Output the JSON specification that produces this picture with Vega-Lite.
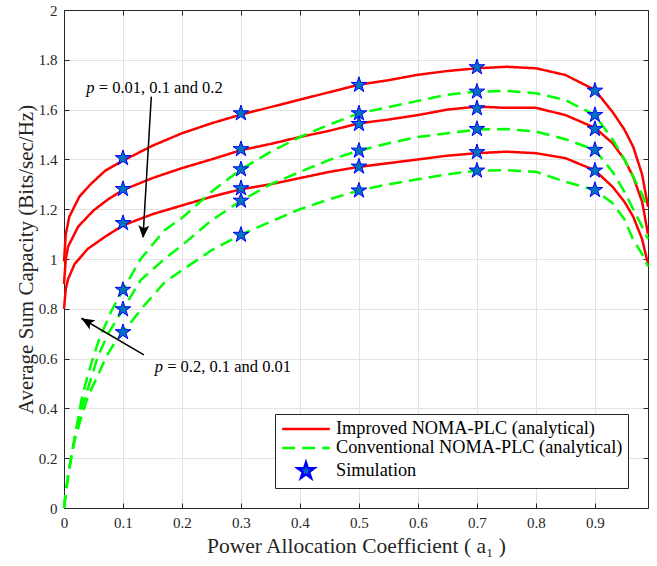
{
  "$schema": "https://vega.github.io/schema/vega-lite/v6.json",
  "width": 584,
  "height": 498,
  "autosize": {"type": "none"},
  "padding": {"left": 64, "top": 10, "right": 9, "bottom": 58},
  "background": "white",
  "config": {
    "font": "Liberation Serif",
    "view": {"stroke": null},
    "axis": {
      "labelFont": "Liberation Serif",
      "titleFont": "Liberation Serif",
      "titleFontWeight": "normal",
      "labelColor": "#262626",
      "titleColor": "#262626",
      "domainColor": "#262626",
      "tickColor": "#262626",
      "gridColor": "#e3e3e3",
      "labelFontSize": 15,
      "titleFontSize": 21,
      "labelFlush": false,
      "tickSize": -5,
      "labelPadding": 12
    },
    "legend": {
      "orient": "none", "legendX": 211, "legendY": 404,
      "fillColor": "white", "strokeColor": "#262626", "padding": 5, "cornerRadius": 0,
      "labelFont": "Liberation Serif", "labelFontSize": 18.3, "labelColor": "#000000", "labelLimit": 500,
      "symbolSize": 289, "symbolOffset": 16, "labelOffset": 20, "rowPadding": 0,
      "symbolStrokeWidth": 2.5, "symbolFillColor": "#0072bd"
    }
  },
  "datasets": {
    "curves": [
      {"series": "Improved NOMA-PLC (analytical)", "p": 0.01, "a": 0, "c": 0.99},
      {"series": "Improved NOMA-PLC (analytical)", "p": 0.01, "a": 0.003, "c": 1.10},
      {"series": "Improved NOMA-PLC (analytical)", "p": 0.01, "a": 0.009, "c": 1.17},
      {"series": "Improved NOMA-PLC (analytical)", "p": 0.01, "a": 0.026, "c": 1.25},
      {"series": "Improved NOMA-PLC (analytical)", "p": 0.01, "a": 0.045, "c": 1.30},
      {"series": "Improved NOMA-PLC (analytical)", "p": 0.01, "a": 0.07, "c": 1.355},
      {"series": "Improved NOMA-PLC (analytical)", "p": 0.01, "a": 0.1, "c": 1.395},
      {"series": "Improved NOMA-PLC (analytical)", "p": 0.01, "a": 0.15, "c": 1.455},
      {"series": "Improved NOMA-PLC (analytical)", "p": 0.01, "a": 0.2, "c": 1.505},
      {"series": "Improved NOMA-PLC (analytical)", "p": 0.01, "a": 0.25, "c": 1.545},
      {"series": "Improved NOMA-PLC (analytical)", "p": 0.01, "a": 0.3, "c": 1.58},
      {"series": "Improved NOMA-PLC (analytical)", "p": 0.01, "a": 0.35, "c": 1.61},
      {"series": "Improved NOMA-PLC (analytical)", "p": 0.01, "a": 0.4, "c": 1.64},
      {"series": "Improved NOMA-PLC (analytical)", "p": 0.01, "a": 0.45, "c": 1.67},
      {"series": "Improved NOMA-PLC (analytical)", "p": 0.01, "a": 0.5, "c": 1.70},
      {"series": "Improved NOMA-PLC (analytical)", "p": 0.01, "a": 0.55, "c": 1.718},
      {"series": "Improved NOMA-PLC (analytical)", "p": 0.01, "a": 0.6, "c": 1.74},
      {"series": "Improved NOMA-PLC (analytical)", "p": 0.01, "a": 0.65, "c": 1.755},
      {"series": "Improved NOMA-PLC (analytical)", "p": 0.01, "a": 0.7, "c": 1.766},
      {"series": "Improved NOMA-PLC (analytical)", "p": 0.01, "a": 0.75, "c": 1.772},
      {"series": "Improved NOMA-PLC (analytical)", "p": 0.01, "a": 0.8, "c": 1.766},
      {"series": "Improved NOMA-PLC (analytical)", "p": 0.01, "a": 0.85, "c": 1.739},
      {"series": "Improved NOMA-PLC (analytical)", "p": 0.01, "a": 0.9, "c": 1.679},
      {"series": "Improved NOMA-PLC (analytical)", "p": 0.01, "a": 0.93, "c": 1.59},
      {"series": "Improved NOMA-PLC (analytical)", "p": 0.01, "a": 0.95, "c": 1.52},
      {"series": "Improved NOMA-PLC (analytical)", "p": 0.01, "a": 0.965, "c": 1.45},
      {"series": "Improved NOMA-PLC (analytical)", "p": 0.01, "a": 0.98, "c": 1.34},
      {"series": "Improved NOMA-PLC (analytical)", "p": 0.01, "a": 0.99, "c": 1.21},

      {"series": "Improved NOMA-PLC (analytical)", "p": 0.1, "a": 0, "c": 0.90},
      {"series": "Improved NOMA-PLC (analytical)", "p": 0.1, "a": 0.003, "c": 1.00},
      {"series": "Improved NOMA-PLC (analytical)", "p": 0.1, "a": 0.007, "c": 1.05},
      {"series": "Improved NOMA-PLC (analytical)", "p": 0.1, "a": 0.024, "c": 1.13},
      {"series": "Improved NOMA-PLC (analytical)", "p": 0.1, "a": 0.05, "c": 1.195},
      {"series": "Improved NOMA-PLC (analytical)", "p": 0.1, "a": 0.075, "c": 1.24},
      {"series": "Improved NOMA-PLC (analytical)", "p": 0.1, "a": 0.1, "c": 1.277},
      {"series": "Improved NOMA-PLC (analytical)", "p": 0.1, "a": 0.15, "c": 1.325},
      {"series": "Improved NOMA-PLC (analytical)", "p": 0.1, "a": 0.2, "c": 1.365},
      {"series": "Improved NOMA-PLC (analytical)", "p": 0.1, "a": 0.25, "c": 1.40},
      {"series": "Improved NOMA-PLC (analytical)", "p": 0.1, "a": 0.3, "c": 1.437},
      {"series": "Improved NOMA-PLC (analytical)", "p": 0.1, "a": 0.35, "c": 1.462},
      {"series": "Improved NOMA-PLC (analytical)", "p": 0.1, "a": 0.4, "c": 1.49},
      {"series": "Improved NOMA-PLC (analytical)", "p": 0.1, "a": 0.45, "c": 1.515},
      {"series": "Improved NOMA-PLC (analytical)", "p": 0.1, "a": 0.5, "c": 1.545},
      {"series": "Improved NOMA-PLC (analytical)", "p": 0.1, "a": 0.55, "c": 1.56},
      {"series": "Improved NOMA-PLC (analytical)", "p": 0.1, "a": 0.6, "c": 1.578},
      {"series": "Improved NOMA-PLC (analytical)", "p": 0.1, "a": 0.65, "c": 1.60},
      {"series": "Improved NOMA-PLC (analytical)", "p": 0.1, "a": 0.7, "c": 1.612},
      {"series": "Improved NOMA-PLC (analytical)", "p": 0.1, "a": 0.75, "c": 1.607},
      {"series": "Improved NOMA-PLC (analytical)", "p": 0.1, "a": 0.8, "c": 1.607},
      {"series": "Improved NOMA-PLC (analytical)", "p": 0.1, "a": 0.85, "c": 1.578},
      {"series": "Improved NOMA-PLC (analytical)", "p": 0.1, "a": 0.9, "c": 1.527},
      {"series": "Improved NOMA-PLC (analytical)", "p": 0.1, "a": 0.93, "c": 1.465},
      {"series": "Improved NOMA-PLC (analytical)", "p": 0.1, "a": 0.95, "c": 1.40},
      {"series": "Improved NOMA-PLC (analytical)", "p": 0.1, "a": 0.965, "c": 1.33},
      {"series": "Improved NOMA-PLC (analytical)", "p": 0.1, "a": 0.98, "c": 1.23},
      {"series": "Improved NOMA-PLC (analytical)", "p": 0.1, "a": 0.99, "c": 1.10},

      {"series": "Improved NOMA-PLC (analytical)", "p": 0.2, "a": 0, "c": 0.80},
      {"series": "Improved NOMA-PLC (analytical)", "p": 0.2, "a": 0.003, "c": 0.88},
      {"series": "Improved NOMA-PLC (analytical)", "p": 0.2, "a": 0.007, "c": 0.92},
      {"series": "Improved NOMA-PLC (analytical)", "p": 0.2, "a": 0.018, "c": 0.98},
      {"series": "Improved NOMA-PLC (analytical)", "p": 0.2, "a": 0.04, "c": 1.04},
      {"series": "Improved NOMA-PLC (analytical)", "p": 0.2, "a": 0.07, "c": 1.09},
      {"series": "Improved NOMA-PLC (analytical)", "p": 0.2, "a": 0.1, "c": 1.135},
      {"series": "Improved NOMA-PLC (analytical)", "p": 0.2, "a": 0.15, "c": 1.18},
      {"series": "Improved NOMA-PLC (analytical)", "p": 0.2, "a": 0.2, "c": 1.215},
      {"series": "Improved NOMA-PLC (analytical)", "p": 0.2, "a": 0.25, "c": 1.25},
      {"series": "Improved NOMA-PLC (analytical)", "p": 0.2, "a": 0.3, "c": 1.28},
      {"series": "Improved NOMA-PLC (analytical)", "p": 0.2, "a": 0.35, "c": 1.30},
      {"series": "Improved NOMA-PLC (analytical)", "p": 0.2, "a": 0.4, "c": 1.325},
      {"series": "Improved NOMA-PLC (analytical)", "p": 0.2, "a": 0.45, "c": 1.35},
      {"series": "Improved NOMA-PLC (analytical)", "p": 0.2, "a": 0.5, "c": 1.37},
      {"series": "Improved NOMA-PLC (analytical)", "p": 0.2, "a": 0.55, "c": 1.385},
      {"series": "Improved NOMA-PLC (analytical)", "p": 0.2, "a": 0.6, "c": 1.40},
      {"series": "Improved NOMA-PLC (analytical)", "p": 0.2, "a": 0.65, "c": 1.415},
      {"series": "Improved NOMA-PLC (analytical)", "p": 0.2, "a": 0.7, "c": 1.425},
      {"series": "Improved NOMA-PLC (analytical)", "p": 0.2, "a": 0.75, "c": 1.431},
      {"series": "Improved NOMA-PLC (analytical)", "p": 0.2, "a": 0.8, "c": 1.425},
      {"series": "Improved NOMA-PLC (analytical)", "p": 0.2, "a": 0.85, "c": 1.405},
      {"series": "Improved NOMA-PLC (analytical)", "p": 0.2, "a": 0.9, "c": 1.356},
      {"series": "Improved NOMA-PLC (analytical)", "p": 0.2, "a": 0.93, "c": 1.29},
      {"series": "Improved NOMA-PLC (analytical)", "p": 0.2, "a": 0.95, "c": 1.23},
      {"series": "Improved NOMA-PLC (analytical)", "p": 0.2, "a": 0.965, "c": 1.17},
      {"series": "Improved NOMA-PLC (analytical)", "p": 0.2, "a": 0.98, "c": 1.08},
      {"series": "Improved NOMA-PLC (analytical)", "p": 0.2, "a": 0.99, "c": 0.98},

      {"series": "Conventional NOMA-PLC (analytical)", "p": 0.01, "a": 0, "c": 0},
      {"series": "Conventional NOMA-PLC (analytical)", "p": 0.01, "a": 0.003, "c": 0.06},
      {"series": "Conventional NOMA-PLC (analytical)", "p": 0.01, "a": 0.007, "c": 0.13},
      {"series": "Conventional NOMA-PLC (analytical)", "p": 0.01, "a": 0.012, "c": 0.2},
      {"series": "Conventional NOMA-PLC (analytical)", "p": 0.01, "a": 0.018, "c": 0.28},
      {"series": "Conventional NOMA-PLC (analytical)", "p": 0.01, "a": 0.024, "c": 0.36},
      {"series": "Conventional NOMA-PLC (analytical)", "p": 0.01, "a": 0.03, "c": 0.44},
      {"series": "Conventional NOMA-PLC (analytical)", "p": 0.01, "a": 0.04, "c": 0.53},
      {"series": "Conventional NOMA-PLC (analytical)", "p": 0.01, "a": 0.05, "c": 0.61},
      {"series": "Conventional NOMA-PLC (analytical)", "p": 0.01, "a": 0.06, "c": 0.68},
      {"series": "Conventional NOMA-PLC (analytical)", "p": 0.01, "a": 0.08, "c": 0.79},
      {"series": "Conventional NOMA-PLC (analytical)", "p": 0.01, "a": 0.1, "c": 0.876},
      {"series": "Conventional NOMA-PLC (analytical)", "p": 0.01, "a": 0.13, "c": 1.0},
      {"series": "Conventional NOMA-PLC (analytical)", "p": 0.01, "a": 0.17, "c": 1.115},
      {"series": "Conventional NOMA-PLC (analytical)", "p": 0.01, "a": 0.2, "c": 1.165},
      {"series": "Conventional NOMA-PLC (analytical)", "p": 0.01, "a": 0.25, "c": 1.27},
      {"series": "Conventional NOMA-PLC (analytical)", "p": 0.01, "a": 0.3, "c": 1.36},
      {"series": "Conventional NOMA-PLC (analytical)", "p": 0.01, "a": 0.35, "c": 1.43},
      {"series": "Conventional NOMA-PLC (analytical)", "p": 0.01, "a": 0.4, "c": 1.49},
      {"series": "Conventional NOMA-PLC (analytical)", "p": 0.01, "a": 0.45, "c": 1.54},
      {"series": "Conventional NOMA-PLC (analytical)", "p": 0.01, "a": 0.5, "c": 1.585},
      {"series": "Conventional NOMA-PLC (analytical)", "p": 0.01, "a": 0.55, "c": 1.61},
      {"series": "Conventional NOMA-PLC (analytical)", "p": 0.01, "a": 0.6, "c": 1.635},
      {"series": "Conventional NOMA-PLC (analytical)", "p": 0.01, "a": 0.65, "c": 1.66},
      {"series": "Conventional NOMA-PLC (analytical)", "p": 0.01, "a": 0.7, "c": 1.672},
      {"series": "Conventional NOMA-PLC (analytical)", "p": 0.01, "a": 0.75, "c": 1.675},
      {"series": "Conventional NOMA-PLC (analytical)", "p": 0.01, "a": 0.8, "c": 1.666},
      {"series": "Conventional NOMA-PLC (analytical)", "p": 0.01, "a": 0.85, "c": 1.638},
      {"series": "Conventional NOMA-PLC (analytical)", "p": 0.01, "a": 0.9, "c": 1.578},
      {"series": "Conventional NOMA-PLC (analytical)", "p": 0.01, "a": 0.93, "c": 1.48},
      {"series": "Conventional NOMA-PLC (analytical)", "p": 0.01, "a": 0.95, "c": 1.40},
      {"series": "Conventional NOMA-PLC (analytical)", "p": 0.01, "a": 0.965, "c": 1.33},
      {"series": "Conventional NOMA-PLC (analytical)", "p": 0.01, "a": 0.98, "c": 1.26},
      {"series": "Conventional NOMA-PLC (analytical)", "p": 0.01, "a": 0.99, "c": 1.20},

      {"series": "Conventional NOMA-PLC (analytical)", "p": 0.1, "a": 0, "c": 0},
      {"series": "Conventional NOMA-PLC (analytical)", "p": 0.1, "a": 0.003, "c": 0.06},
      {"series": "Conventional NOMA-PLC (analytical)", "p": 0.1, "a": 0.007, "c": 0.13},
      {"series": "Conventional NOMA-PLC (analytical)", "p": 0.1, "a": 0.012, "c": 0.2},
      {"series": "Conventional NOMA-PLC (analytical)", "p": 0.1, "a": 0.018, "c": 0.28},
      {"series": "Conventional NOMA-PLC (analytical)", "p": 0.1, "a": 0.025, "c": 0.36},
      {"series": "Conventional NOMA-PLC (analytical)", "p": 0.1, "a": 0.036, "c": 0.448},
      {"series": "Conventional NOMA-PLC (analytical)", "p": 0.1, "a": 0.047, "c": 0.528},
      {"series": "Conventional NOMA-PLC (analytical)", "p": 0.1, "a": 0.0575, "c": 0.61},
      {"series": "Conventional NOMA-PLC (analytical)", "p": 0.1, "a": 0.075, "c": 0.70},
      {"series": "Conventional NOMA-PLC (analytical)", "p": 0.1, "a": 0.1, "c": 0.798},
      {"series": "Conventional NOMA-PLC (analytical)", "p": 0.1, "a": 0.13, "c": 0.915},
      {"series": "Conventional NOMA-PLC (analytical)", "p": 0.1, "a": 0.17, "c": 1.0},
      {"series": "Conventional NOMA-PLC (analytical)", "p": 0.1, "a": 0.2, "c": 1.055},
      {"series": "Conventional NOMA-PLC (analytical)", "p": 0.1, "a": 0.25, "c": 1.155},
      {"series": "Conventional NOMA-PLC (analytical)", "p": 0.1, "a": 0.3, "c": 1.234},
      {"series": "Conventional NOMA-PLC (analytical)", "p": 0.1, "a": 0.35, "c": 1.30},
      {"series": "Conventional NOMA-PLC (analytical)", "p": 0.1, "a": 0.4, "c": 1.35},
      {"series": "Conventional NOMA-PLC (analytical)", "p": 0.1, "a": 0.45, "c": 1.398},
      {"series": "Conventional NOMA-PLC (analytical)", "p": 0.1, "a": 0.5, "c": 1.435},
      {"series": "Conventional NOMA-PLC (analytical)", "p": 0.1, "a": 0.55, "c": 1.465},
      {"series": "Conventional NOMA-PLC (analytical)", "p": 0.1, "a": 0.6, "c": 1.49},
      {"series": "Conventional NOMA-PLC (analytical)", "p": 0.1, "a": 0.65, "c": 1.505},
      {"series": "Conventional NOMA-PLC (analytical)", "p": 0.1, "a": 0.7, "c": 1.52},
      {"series": "Conventional NOMA-PLC (analytical)", "p": 0.1, "a": 0.75, "c": 1.522},
      {"series": "Conventional NOMA-PLC (analytical)", "p": 0.1, "a": 0.8, "c": 1.512},
      {"series": "Conventional NOMA-PLC (analytical)", "p": 0.1, "a": 0.85, "c": 1.481},
      {"series": "Conventional NOMA-PLC (analytical)", "p": 0.1, "a": 0.9, "c": 1.438},
      {"series": "Conventional NOMA-PLC (analytical)", "p": 0.1, "a": 0.93, "c": 1.35},
      {"series": "Conventional NOMA-PLC (analytical)", "p": 0.1, "a": 0.95, "c": 1.27},
      {"series": "Conventional NOMA-PLC (analytical)", "p": 0.1, "a": 0.965, "c": 1.20},
      {"series": "Conventional NOMA-PLC (analytical)", "p": 0.1, "a": 0.98, "c": 1.13},
      {"series": "Conventional NOMA-PLC (analytical)", "p": 0.1, "a": 0.99, "c": 1.08},

      {"series": "Conventional NOMA-PLC (analytical)", "p": 0.2, "a": 0, "c": 0},
      {"series": "Conventional NOMA-PLC (analytical)", "p": 0.2, "a": 0.003, "c": 0.06},
      {"series": "Conventional NOMA-PLC (analytical)", "p": 0.2, "a": 0.007, "c": 0.13},
      {"series": "Conventional NOMA-PLC (analytical)", "p": 0.2, "a": 0.012, "c": 0.2},
      {"series": "Conventional NOMA-PLC (analytical)", "p": 0.2, "a": 0.018, "c": 0.27},
      {"series": "Conventional NOMA-PLC (analytical)", "p": 0.2, "a": 0.028, "c": 0.354},
      {"series": "Conventional NOMA-PLC (analytical)", "p": 0.2, "a": 0.0405, "c": 0.448},
      {"series": "Conventional NOMA-PLC (analytical)", "p": 0.2, "a": 0.0565, "c": 0.528},
      {"series": "Conventional NOMA-PLC (analytical)", "p": 0.2, "a": 0.072, "c": 0.61},
      {"series": "Conventional NOMA-PLC (analytical)", "p": 0.2, "a": 0.085, "c": 0.66},
      {"series": "Conventional NOMA-PLC (analytical)", "p": 0.2, "a": 0.1, "c": 0.706},
      {"series": "Conventional NOMA-PLC (analytical)", "p": 0.2, "a": 0.137, "c": 0.816},
      {"series": "Conventional NOMA-PLC (analytical)", "p": 0.2, "a": 0.17, "c": 0.905},
      {"series": "Conventional NOMA-PLC (analytical)", "p": 0.2, "a": 0.2, "c": 0.955},
      {"series": "Conventional NOMA-PLC (analytical)", "p": 0.2, "a": 0.25, "c": 1.035},
      {"series": "Conventional NOMA-PLC (analytical)", "p": 0.2, "a": 0.3, "c": 1.097},
      {"series": "Conventional NOMA-PLC (analytical)", "p": 0.2, "a": 0.35, "c": 1.15},
      {"series": "Conventional NOMA-PLC (analytical)", "p": 0.2, "a": 0.4, "c": 1.20},
      {"series": "Conventional NOMA-PLC (analytical)", "p": 0.2, "a": 0.45, "c": 1.24},
      {"series": "Conventional NOMA-PLC (analytical)", "p": 0.2, "a": 0.5, "c": 1.275},
      {"series": "Conventional NOMA-PLC (analytical)", "p": 0.2, "a": 0.55, "c": 1.30},
      {"series": "Conventional NOMA-PLC (analytical)", "p": 0.2, "a": 0.6, "c": 1.32},
      {"series": "Conventional NOMA-PLC (analytical)", "p": 0.2, "a": 0.65, "c": 1.34},
      {"series": "Conventional NOMA-PLC (analytical)", "p": 0.2, "a": 0.7, "c": 1.355},
      {"series": "Conventional NOMA-PLC (analytical)", "p": 0.2, "a": 0.75, "c": 1.357},
      {"series": "Conventional NOMA-PLC (analytical)", "p": 0.2, "a": 0.8, "c": 1.35},
      {"series": "Conventional NOMA-PLC (analytical)", "p": 0.2, "a": 0.85, "c": 1.31},
      {"series": "Conventional NOMA-PLC (analytical)", "p": 0.2, "a": 0.9, "c": 1.277},
      {"series": "Conventional NOMA-PLC (analytical)", "p": 0.2, "a": 0.93, "c": 1.224},
      {"series": "Conventional NOMA-PLC (analytical)", "p": 0.2, "a": 0.95, "c": 1.16},
      {"series": "Conventional NOMA-PLC (analytical)", "p": 0.2, "a": 0.965, "c": 1.077},
      {"series": "Conventional NOMA-PLC (analytical)", "p": 0.2, "a": 0.98, "c": 1.02},
      {"series": "Conventional NOMA-PLC (analytical)", "p": 0.2, "a": 0.99, "c": 0.97}
    ],
    "sim": [
      {"series": "Simulation", "a": 0.1, "c": 1.405}, {"series": "Simulation", "a": 0.1, "c": 1.281}, {"series": "Simulation", "a": 0.1, "c": 1.144},
      {"series": "Simulation", "a": 0.1, "c": 0.876}, {"series": "Simulation", "a": 0.1, "c": 0.798}, {"series": "Simulation", "a": 0.1, "c": 0.706},
      {"series": "Simulation", "a": 0.3, "c": 1.585}, {"series": "Simulation", "a": 0.3, "c": 1.441}, {"series": "Simulation", "a": 0.3, "c": 1.360},
      {"series": "Simulation", "a": 0.3, "c": 1.284}, {"series": "Simulation", "a": 0.3, "c": 1.234}, {"series": "Simulation", "a": 0.3, "c": 1.097},
      {"series": "Simulation", "a": 0.5, "c": 1.699}, {"series": "Simulation", "a": 0.5, "c": 1.585}, {"series": "Simulation", "a": 0.5, "c": 1.542},
      {"series": "Simulation", "a": 0.5, "c": 1.435}, {"series": "Simulation", "a": 0.5, "c": 1.371}, {"series": "Simulation", "a": 0.5, "c": 1.275},
      {"series": "Simulation", "a": 0.7, "c": 1.770}, {"series": "Simulation", "a": 0.7, "c": 1.672}, {"series": "Simulation", "a": 0.7, "c": 1.605},
      {"series": "Simulation", "a": 0.7, "c": 1.522}, {"series": "Simulation", "a": 0.7, "c": 1.429}, {"series": "Simulation", "a": 0.7, "c": 1.355},
      {"series": "Simulation", "a": 0.9, "c": 1.676}, {"series": "Simulation", "a": 0.9, "c": 1.578}, {"series": "Simulation", "a": 0.9, "c": 1.522},
      {"series": "Simulation", "a": 0.9, "c": 1.438}, {"series": "Simulation", "a": 0.9, "c": 1.355}, {"series": "Simulation", "a": 0.9, "c": 1.277}
    ]
  },
  "layer": [
    {
      "data": {"name": "curves"},
      "transform": [{"filter": "datum.series === 'Improved NOMA-PLC (analytical)'"}],
      "mark": {"type": "line", "strokeWidth": 2.5, "interpolate": "linear"},
      "encoding": {
        "x": {"field": "a", "type": "quantitative", "scale": {"domain": [0, 0.99], "nice": false, "zero": false},
          "axis": {"orient": "bottom", "values": [0, 0.1, 0.2, 0.3, 0.4, 0.5, 0.6, 0.7, 0.8, 0.9], "format": "~g", "grid": true,
            "title": "Power Allocation Coefficient ( a\u2081 )", "titlePadding": 5, "titleFontSize": 21.5}},
        "y": {"field": "c", "type": "quantitative", "scale": {"domain": [0, 2], "nice": false},
          "axis": {"orient": "left", "values": [0, 0.2, 0.4, 0.6, 0.8, 1, 1.2, 1.4, 1.6, 1.8, 2], "format": "~g", "grid": true,
            "title": "Average Sum Capacity (Bits/sec/Hz)", "titlePadding": 2, "titleFontSize": 21}},
        "detail": {"field": "p", "type": "nominal"},
        "color": {"field": "series", "type": "nominal",
          "scale": {"domain": ["Improved NOMA-PLC (analytical)", "Conventional NOMA-PLC (analytical)", "Simulation"], "range": ["#ff0000", "#00ff00", "#0000ff"]},
          "legend": {"title": null}},
        "strokeDash": {"field": "series", "type": "nominal",
          "scale": {"domain": ["Improved NOMA-PLC (analytical)", "Conventional NOMA-PLC (analytical)", "Simulation"], "range": [[1, 0], [13, 7], [1, 0]]},
          "legend": {"title": null}}
      }
    },
    {
      "data": {"name": "curves"},
      "transform": [{"filter": "datum.series === 'Conventional NOMA-PLC (analytical)'"}],
      "mark": {"type": "line", "strokeWidth": 2.5, "interpolate": "linear"},
      "encoding": {
        "x": {"field": "a", "type": "quantitative", "scale": {"domain": [0, 0.99], "nice": false, "zero": false}, "axis": null},
        "y": {"field": "c", "type": "quantitative", "scale": {"domain": [0, 2], "nice": false}, "axis": null},
        "detail": {"field": "p", "type": "nominal"},
        "color": {"field": "series", "type": "nominal",
          "scale": {"domain": ["Improved NOMA-PLC (analytical)", "Conventional NOMA-PLC (analytical)", "Simulation"], "range": ["#ff0000", "#00ff00", "#0000ff"]},
          "legend": {"title": null}},
        "strokeDash": {"field": "series", "type": "nominal",
          "scale": {"domain": ["Improved NOMA-PLC (analytical)", "Conventional NOMA-PLC (analytical)", "Simulation"], "range": [[1, 0], [13, 7], [1, 0]]},
          "legend": {"title": null}}
      }
    },
    {
      "data": {"name": "sim"},
      "mark": {"type": "point", "size": 270, "filled": true, "fill": "#0072bd", "stroke": "#0000ff", "strokeWidth": 1, "opacity": 1},
      "encoding": {
        "x": {"field": "a", "type": "quantitative", "scale": {"domain": [0, 0.99], "nice": false, "zero": false}, "axis": null},
        "y": {"field": "c", "type": "quantitative", "scale": {"domain": [0, 2], "nice": false}, "axis": null},
        "shape": {"field": "series", "type": "nominal",
          "scale": {"domain": ["Improved NOMA-PLC (analytical)", "Conventional NOMA-PLC (analytical)", "Simulation"],
            "range": ["M-2.8,0L2.8,0", "M-2.8,0L2.8,0", "M0,-1L0.2245,-0.309L0.951,-0.309L0.363,0.118L0.588,0.809L0,0.382L-0.588,0.809L-0.363,0.118L-0.951,-0.309L-0.2245,-0.309Z"]},
          "legend": {"title": null}}
      }
    },
    {
      "data": {"values": [
        {"a": 0.148, "c": 1.652, "a2": 0.134, "c2": 1.09},
        {"a": 0.1355, "c": 0.615, "a2": 0.0293, "c2": 0.762}
      ]},
      "mark": {"type": "rule", "color": "#000000", "strokeWidth": 1.5},
      "encoding": {
        "x": {"field": "a", "type": "quantitative", "scale": {"domain": [0, 0.99], "nice": false, "zero": false}, "axis": null},
        "y": {"field": "c", "type": "quantitative", "scale": {"domain": [0, 2], "nice": false}, "axis": null},
        "x2": {"field": "a2"},
        "y2": {"field": "c2"}
      }
    },
    {
      "data": {"values": [{"a": 0.134, "c": 1.083}]},
      "mark": {"type": "point", "shape": "M0,0L0.42,1L0,0.78L-0.42,1Z", "size": 676, "filled": true, "color": "#000000", "opacity": 1, "angle": 183.4},
      "encoding": {
        "x": {"field": "a", "type": "quantitative", "scale": {"domain": [0, 0.99], "nice": false, "zero": false}, "axis": null},
        "y": {"field": "c", "type": "quantitative", "scale": {"domain": [0, 2], "nice": false}, "axis": null}
      }
    },
    {
      "data": {"values": [{"a": 0.0293, "c": 0.762}]},
      "mark": {"type": "point", "shape": "M0,0L0.42,1L0,0.78L-0.42,1Z", "size": 676, "filled": true, "color": "#000000", "opacity": 1, "angle": 300.4},
      "encoding": {
        "x": {"field": "a", "type": "quantitative", "scale": {"domain": [0, 0.99], "nice": false, "zero": false}, "axis": null},
        "y": {"field": "c", "type": "quantitative", "scale": {"domain": [0, 2], "nice": false}, "axis": null}
      }
    },
    {
      "data": {"values": [
        {"a": 0.0378, "c": 1.687, "rest": "= 0.01, 0.1 and 0.2"},
        {"a": 0.1537, "c": 0.568, "rest": "= 0.2, 0.1 and 0.01"}
      ]},
      "mark": {"type": "text", "text": "p", "fontStyle": "italic", "font": "Liberation Serif", "fontSize": 16.5, "align": "left", "baseline": "middle", "color": "#000000"},
      "encoding": {
        "x": {"field": "a", "type": "quantitative", "scale": {"domain": [0, 0.99], "nice": false, "zero": false}, "axis": null},
        "y": {"field": "c", "type": "quantitative", "scale": {"domain": [0, 2], "nice": false}, "axis": null}
      }
    },
    {
      "data": {"values": [
        {"a": 0.0378, "c": 1.687, "rest": "= 0.01, 0.1 and 0.2"},
        {"a": 0.1537, "c": 0.568, "rest": "= 0.2, 0.1 and 0.01"}
      ]},
      "mark": {"type": "text", "font": "Liberation Serif", "fontSize": 16.5, "align": "left", "baseline": "middle", "color": "#000000", "dx": 12.5},
      "encoding": {
        "x": {"field": "a", "type": "quantitative", "scale": {"domain": [0, 0.99], "nice": false, "zero": false}, "axis": null},
        "y": {"field": "c", "type": "quantitative", "scale": {"domain": [0, 2], "nice": false}, "axis": null},
        "text": {"field": "rest", "type": "nominal"}
      }
    },
    {
      "data": {"name": "sim"},
      "mark": {"type": "point", "opacity": 0},
      "encoding": {
        "x": {"field": "a", "type": "quantitative", "scale": {"domain": [0, 0.99], "nice": false, "zero": false},
          "axis": {"orient": "top", "values": [0, 0.1, 0.2, 0.3, 0.4, 0.5, 0.6, 0.7, 0.8, 0.9], "labels": false, "grid": false, "title": null}},
        "y": {"field": "c", "type": "quantitative", "scale": {"domain": [0, 2], "nice": false},
          "axis": {"orient": "right", "values": [0, 0.2, 0.4, 0.6, 0.8, 1, 1.2, 1.4, 1.6, 1.8, 2], "labels": false, "grid": false, "title": null}}
      }
    }
  ],
  "resolve": {"axis": {"x": "independent", "y": "independent"}}
}
